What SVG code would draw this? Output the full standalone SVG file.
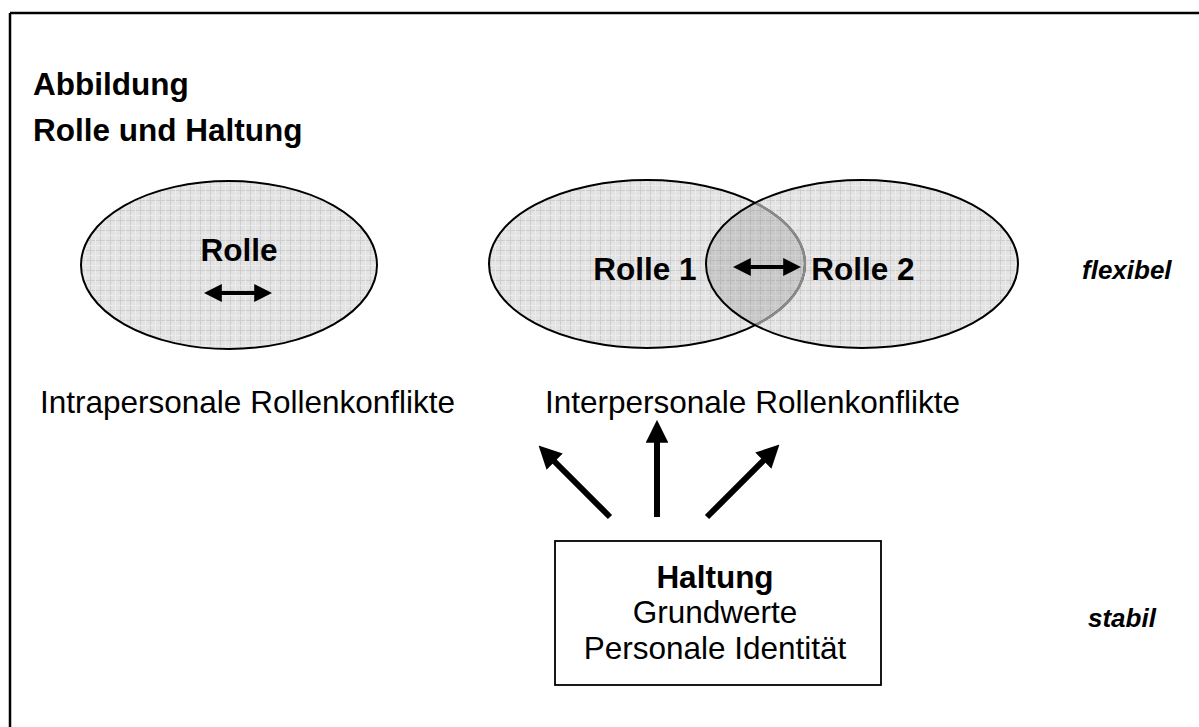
<svg xmlns="http://www.w3.org/2000/svg" width="1199" height="727" viewBox="0 0 1199 727">
  <style>
    .bold { font-family: "Liberation Sans", Arial, sans-serif; font-weight: bold; font-size: 31.5px; fill: #000; }
    .reg { font-family: "Liberation Sans", Arial, sans-serif; font-size: 31.5px; fill: #000; }
    .bi { font-family: "Liberation Sans", Arial, sans-serif; font-weight: bold; font-style: italic; font-size: 26px; fill: #000; }
    .role { fill: url(#grid); stroke: none; }
    .outline { fill: none; stroke: #000; stroke-width: 2; }
    .frame { stroke: #000; stroke-width: 2.5; fill: none; }
    .link { stroke: #000; stroke-width: 6; fill: none; }
    .dbl { stroke: #000; stroke-width: 4; fill: none; }
  </style>
  <defs>
    <pattern id="grid" width="10" height="10" patternUnits="userSpaceOnUse">
      <rect width="10" height="10" fill="#e3e3e3"/>
      <path d="M0 0.5H10M0.5 0V10" stroke="#cdcdcd" stroke-width="1"/>
      <path d="M0 5.5H10M5.5 0V10" stroke="#ebebeb" stroke-width="1"/>
    </pattern>
    <marker id="head" viewBox="0 0 10 10" refX="6" refY="5" markerWidth="3.8" markerHeight="3.8" orient="auto-start-reverse" markerUnits="strokeWidth">
      <path d="M0 0L10 5L0 10z" fill="#000"/>
    </marker>
    <marker id="headSmall" viewBox="0 0 10 10" refX="6" refY="5" markerWidth="4.5" markerHeight="4.5" orient="auto-start-reverse" markerUnits="strokeWidth">
      <path d="M0 0L10 5L0 10z" fill="#000"/>
    </marker>
    <clipPath id="clipR1"><ellipse cx="647" cy="264" rx="158" ry="84"/></clipPath>
    <clipPath id="clipR2"><ellipse cx="862" cy="264" rx="156" ry="84"/></clipPath>
  </defs>

  <rect width="1199" height="727" fill="#fff"/>

  <!-- open frame: top and left edge only -->
  <path class="frame" d="M10 13H1199M10 13V727"/>

  <g id="title">
    <text class="bold" x="33" y="95">Abbildung</text>
    <text class="bold" x="33" y="141">Rolle und Haltung</text>
  </g>

  <g id="rolle">
    <ellipse class="role" cx="229" cy="265" rx="148" ry="84"/>
    <ellipse class="outline" cx="229" cy="265" rx="148" ry="84"/>
    <text class="bold" x="239" y="261" text-anchor="middle">Rolle</text>
  </g>

  <g id="rolle1">
    <ellipse class="role" cx="647" cy="264" rx="158" ry="84"/>
  </g>
  <g id="rolle2">
    <ellipse class="role" cx="862" cy="264" rx="156" ry="84"/>
  </g>
  <g id="overlap">
    <!-- darker lens where both roles overlap -->
    <ellipse cx="862" cy="264" rx="156" ry="84" clip-path="url(#clipR1)" fill="#7a7a7a" fill-opacity="0.24"/>
  </g>
  <g id="outlines">
    <ellipse class="outline" cx="647" cy="264" rx="158" ry="84"/>
    <ellipse cx="647" cy="264" rx="158" ry="84" clip-path="url(#clipR2)" fill="none" stroke="#8a8a8a" stroke-width="2.4"/>
    <ellipse class="outline" cx="862" cy="264" rx="156" ry="84"/>
  </g>
  <g id="labels12">
    <text class="bold" x="645" y="280" text-anchor="middle">Rolle 1</text>
    <text class="bold" x="863" y="280" text-anchor="middle">Rolle 2</text>
  </g>

  <g id="flexibel"><text class="bi" x="1082" y="279">flexibel</text></g>
  <g id="stabil"><text class="bi" x="1088" y="627">stabil</text></g>

  <g id="intra"><text class="reg" x="40" y="413">Intrapersonale Rollenkonflikte</text></g>
  <g id="inter"><text class="reg" x="545" y="413">Interpersonale Rollenkonflikte</text></g>

  <g id="haltung">
    <rect x="555" y="541" width="326" height="144" fill="#fff" stroke="#000" stroke-width="1.8"/>
    <text class="bold" x="715" y="588" text-anchor="middle">Haltung</text>
    <text class="reg" x="715" y="623" text-anchor="middle">Grundwerte</text>
    <text class="reg" x="715" y="659" text-anchor="middle">Personale Identität</text>
  </g>

  <g id="connectors">
    <line class="dbl" x1="211" y1="293" x2="265" y2="293" marker-start="url(#headSmall)" marker-end="url(#headSmall)"/>
    <line class="dbl" x1="740" y1="267" x2="794" y2="267" marker-start="url(#headSmall)" marker-end="url(#headSmall)"/>
    <line class="link" x1="610" y1="517" x2="545" y2="452" marker-end="url(#head)"/>
    <line class="link" x1="657" y1="517" x2="657" y2="429" marker-end="url(#head)"/>
    <line class="link" x1="707" y1="517" x2="773" y2="451" marker-end="url(#head)"/>
  </g>
</svg>
